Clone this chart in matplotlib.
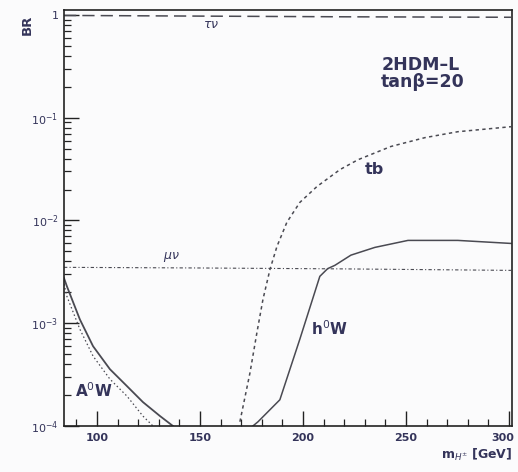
import numpy as np
import matplotlib
matplotlib.use("Agg")
import matplotlib.pyplot as plt
import matplotlib.transforms as mtransforms
from matplotlib.ticker import MultipleLocator, LogLocator, FixedLocator, NullFormatter

# charged Higgs branching ratios, 2HDM-L, tan(beta)=20
mh_taunu = [84, 150, 220, 301]
br_taunu = [0.99, 0.975, 0.96, 0.95]

mh_munu = [84, 150, 220, 301]
br_munu = [3.5e-3, 3.45e-3, 3.38e-3, 3.27e-3]

mh_tb = [169.4, 174.3, 177.7, 180.6, 184.0, 187.4, 192.2, 198.5, 206.8, 218.0,
         226.7, 242.7, 259.2, 275.2, 301.0]
br_tb = [1.1e-4, 3.3e-4, 8.2e-4, 1.71e-3, 3.34e-3, 5.6e-3, 9.6e-3, 0.015, 0.0214, 0.0313,
         0.039, 0.0525, 0.064, 0.0731, 0.0818]

mh_h0w = [175.7, 178.2, 188.8, 198.5, 208.2, 212.0, 215.5, 223.3, 234.9, 251.0, 275.2, 301.0]
br_h0w = [1.0e-4, 1.1e-4, 1.8e-4, 7.0e-4, 2.86e-3, 3.4e-3, 3.66e-3, 4.6e-3, 5.47e-3, 6.4e-3, 6.4e-3, 5.98e-3]

mh_a0w = [84.0, 85.4, 91.7, 98.1, 106.3, 114.6, 122.3, 130.6, 136.9]
br_a0w = [2.75e-3, 2.29e-3, 1.09e-3, 5.98e-4, 3.57e-4, 2.44e-4, 1.71e-4, 1.25e-4, 1.0e-4]

mh_a0w_b = [84.0, 85.4, 91.7, 98.1, 106.3, 114.6, 122.3, 127.2]
br_a0w_b = [2.4e-3, 1.83e-3, 8.75e-4, 4.79e-4, 2.86e-4, 1.95e-4, 1.25e-4, 1.0e-4]

txt = "#34345a"
lc = "#4a4a52"

fig = plt.figure(figsize=(5.18, 4.72), dpi=100)
fig.patch.set_facecolor("#fbfbfc")
ax = fig.add_axes([64 / 518, 1 - 426 / 472, 448 / 518, 416 / 472])
ax.set_facecolor("#fbfbfc")

ax.plot(mh_taunu, br_taunu, color=lc, lw=1.1, dashes=(8, 4))
ax.plot(mh_munu, br_munu, color=lc, lw=0.8, dashes=(3, 2, 1, 2))
ax.plot(mh_tb, br_tb, color=lc, lw=1.1, dashes=(2.2, 2.2))
ax.plot(mh_h0w, br_h0w, color=lc, lw=1.1)
ax.plot(mh_a0w, br_a0w, color=lc, lw=1.3)
ax.plot(mh_a0w_b, br_a0w_b, color=lc, lw=0.9, dashes=(1.2, 2))

ax.set_yscale("log")
ax.set_xlim(84, 301.5)
ax.set_ylim(1e-4, 1.118)

ax.xaxis.set_major_locator(FixedLocator([100, 150, 200, 250, 300]))
ax.xaxis.set_minor_locator(MultipleLocator(10))
ax.yaxis.set_major_locator(FixedLocator([1e-4, 1e-3, 1e-2, 1e-1, 1]))
ax.yaxis.set_minor_locator(LogLocator(base=10, subs=np.arange(2, 10)))
ax.yaxis.set_minor_formatter(NullFormatter())
ax.set_yticklabels([r"$10^{-4}$", r"$10^{-3}$", r"$10^{-2}$", r"$10^{-1}$", "1"])
ax.set_xticklabels(["100", "150", "200", "250", "300"], fontweight="bold")

ax.tick_params(axis="both", which="major", direction="in", length=11, width=1.0,
               color="#222", labelsize=8, labelcolor=txt)
ax.tick_params(axis="both", which="minor", direction="in", length=5, width=0.9, color="#222")
ax.tick_params(axis="x", pad=5)
ax.tick_params(axis="y", pad=4)
for s in ax.spines.values():
    s.set_color("#222")
    s.set_linewidth(1.2)

# keep the last x label inside the canvas
last = ax.get_xticklabels()[-1]
last.set_transform(last.get_transform() +
                   mtransforms.ScaledTranslation(-6 / 100, 0, fig.dpi_scale_trans))

ax.text(151.5, 0.8, r"$\tau\nu$", color=txt, fontsize=9, va="center")
ax.text(132, 4.4e-3, r"$\mu\nu$", color=txt, fontsize=9, va="center")
ax.text(230, 0.031, "tb", color=txt, fontsize=11.5, fontweight="bold", va="center")
ax.text(204, 8.9e-4, r"h$^0$W", color=txt, fontsize=11, fontweight="bold", va="center")
ax.text(89.3, 2.2e-4, r"A$^0$W", color=txt, fontsize=11, fontweight="bold", va="center")
ax.text(238, 0.27, "2HDM\u2013L\ntan\u03b2=20", color=txt, fontsize=12.5,
        fontweight="bold", linespacing=0.95, va="center")

fig.text(27 / 518, 1 - 25 / 472, "BR", rotation=90, color=txt, fontsize=9.5,
         fontweight="bold", ha="center", va="center")
fig.text(512 / 518, 1 - 455 / 472, r"m$_{H^{\pm}}$ [GeV]", color=txt, fontsize=9,
         fontweight="bold", ha="right", va="center")

fig.savefig("out.png", dpi=100, facecolor=fig.get_facecolor())
